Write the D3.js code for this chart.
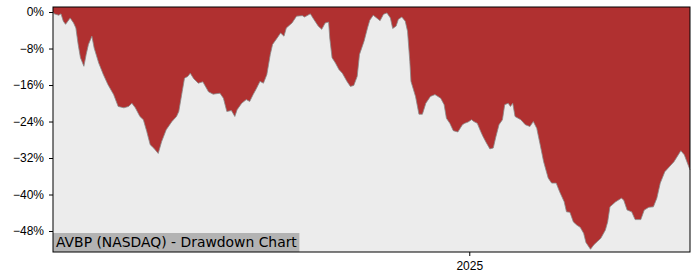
<!DOCTYPE html>
<html>
<head>
<meta charset="utf-8">
<script src="https://cdn.jsdelivr.net/npm/d3@7"></script>
<style>
  body { margin: 0; background: #fff; }
  svg { display: block; font-family: "DejaVu Sans", sans-serif; }
  .tick text { font-size: 12px; fill: #000; }
</style>
</head>
<body>
<svg width="700" height="280"></svg>
<script>
const dates = [
  '2024-01-03','2024-01-04','2024-01-08','2024-01-10','2024-01-12','2024-01-14','2024-01-16','2024-01-18',
  '2024-01-21','2024-01-23','2024-01-25','2024-01-27','2024-01-30','2024-02-01','2024-02-03','2024-02-06',
  '2024-02-08','2024-02-12','2024-02-16','2024-02-20','2024-02-25','2024-02-29','2024-03-05','2024-03-09',
  '2024-03-12','2024-03-15','2024-03-19','2024-03-22','2024-03-25','2024-03-28','2024-03-31','2024-04-04',
  '2024-04-07','2024-04-11','2024-04-16','2024-04-20','2024-04-22','2024-04-25','2024-04-27','2024-04-30',
  '2024-05-02','2024-05-05','2024-05-09','2024-05-13','2024-05-18','2024-05-22','2024-05-28','2024-05-31',
  '2024-06-03','2024-06-07','2024-06-10','2024-06-12','2024-06-16','2024-06-20','2024-06-23','2024-06-26',
  '2024-06-29','2024-07-02','2024-07-05','2024-07-08','2024-07-11','2024-07-13','2024-07-17','2024-07-20',
  '2024-07-23','2024-07-25','2024-07-30','2024-08-03','2024-08-08','2024-08-10','2024-08-15','2024-08-18',
  '2024-08-22','2024-08-25','2024-08-28','2024-08-31','2024-09-01','2024-09-03','2024-09-06','2024-09-09',
  '2024-09-12','2024-09-16','2024-09-19','2024-09-22','2024-09-25','2024-09-27','2024-10-01','2024-10-04',
  '2024-10-06','2024-10-09','2024-10-12','2024-10-15','2024-10-18','2024-10-21','2024-10-24','2024-10-26',
  '2024-10-29','2024-10-31','2024-11-03','2024-11-06','2024-11-08','2024-11-10','2024-11-11','2024-11-15',
  '2024-11-18','2024-11-21','2024-11-24','2024-11-28','2024-12-02','2024-12-07','2024-12-10','2024-12-12',
  '2024-12-15','2024-12-18','2024-12-22','2024-12-26','2024-12-28','2024-12-31','2025-01-03','2025-01-05',
  '2025-01-08','2025-01-11','2025-01-13','2025-01-16','2025-01-19','2025-01-22','2025-01-24','2025-01-27',
  '2025-01-30','2025-02-01','2025-02-04','2025-02-06','2025-02-08','2025-02-10','2025-02-15','2025-02-19',
  '2025-02-23','2025-02-26','2025-03-01','2025-03-04','2025-03-07','2025-03-11','2025-03-14','2025-03-18',
  '2025-03-21','2025-03-25','2025-03-27','2025-03-30','2025-04-02','2025-04-05','2025-04-08','2025-04-11',
  '2025-04-13','2025-04-17','2025-04-20','2025-04-23','2025-04-26','2025-04-30','2025-05-02','2025-05-04',
  '2025-05-09','2025-05-14','2025-05-16','2025-05-19','2025-05-23','2025-05-26','2025-05-31','2025-06-03',
  '2025-06-07','2025-06-11','2025-06-14','2025-06-17','2025-06-21','2025-06-25','2025-06-29','2025-07-05',
  '2025-07-08','2025-07-13'
];

const drawdown = [
  0, -0.4, -0.7, -0.4, -2, -2.7, -2, -1.3,
  -2.4, -3.5, -7.1, -10, -11.9, -9.3, -7.1, -5.3,
  -7.9, -11.2, -13.7, -15.9, -18.1, -20.7, -21, -20.7,
  -20, -21, -22.9, -23.6, -26.2, -29.1, -29.8, -31,
  -28.4, -25.8, -24, -22.9, -21.8, -17.4, -14.5, -14.1,
  -13.4, -14.6, -15.6, -15.3, -17.5, -18, -17.8, -18.9,
  -21.8, -21.6, -22.9, -21.4, -20, -19.2, -19.6, -18.1,
  -16.7, -15.2, -15.6, -13.7, -9.3, -7.1, -5.7, -4.6,
  -5.3, -3.5, -2.4, -0.9, -0.8, -1.1, -0.4, -1.6,
  -3.1, -3.8, -2.4, -2.2, -5.7, -10, -11.2, -12.6,
  -13.4, -15.2, -16.3, -16.1, -14.1, -9.3, -6.4, -3.5,
  -1.8, -0.7, -1.3, -1.9, -0.5, -0.2, -1.3, -3.6,
  -3.1, -1.6, -1.1, -2, -4.2, -10.8, -15.2, -18.5,
  -22.4, -22.4, -20, -18.5, -18.1, -18.9, -20.3, -23.3,
  -24.4, -26, -26.3, -24.7, -24.4, -24.1, -23.6, -24,
  -24.4, -26.2, -27.3, -28.7, -30, -29.8, -27.6, -24.7,
  -23.6, -20.3, -20, -20.7, -20, -22.9, -23.6, -24.7,
  -25.1, -24, -25.5, -29.1, -32.8, -36.4, -37.5, -37.5,
  -39.4, -41.6, -43.8, -43.9, -46, -46.7, -47.2, -48.5,
  -50.5, -52, -51, -50.3, -49.6, -47.8, -46, -42.7,
  -41.6, -40.8, -41.2, -43.4, -43.8, -45.5, -45.5, -43.4,
  -42.8, -42.7, -40.8, -37.5, -35, -33.9, -32.8, -30.4,
  -31.3, -34.6
];

const yTicks = [0, -8, -16, -24, -32, -40, -48];
const xTickYears = ['2025-01-01'];
const title = 'AVBP (NASDAQ) - Drawdown Chart';

const svg = d3.select('svg');
const margin = { top: 7, right: 10, bottom: 28, left: 53 };
const width = +svg.attr('width');
const height = +svg.attr('height');
const innerWidth = width - margin.left - margin.right;
const innerHeight = height - margin.top - margin.bottom;

const parse = d3.utcParse('%Y-%m-%d');
const data = dates.map((d, i) => ({ date: parse(d), value: drawdown[i] }));

const xScale = d3.scaleUtc()
  .domain([parse(dates[0]), parse(dates[dates.length - 1])])
  .range([0, innerWidth]);

const yScale = d3.scaleLinear()
  .domain([-52.6, 1.1])
  .range([innerHeight, 0]);

const g = svg.append('g')
  .attr('transform', `translate(${margin.left},${margin.top})`);

g.append('rect')
  .attr('width', innerWidth)
  .attr('height', innerHeight)
  .attr('fill', '#ececec');

// red area from the curve up to the top of the plot
const area = d3.area()
  .x(d => xScale(d.date))
  .y0(0)
  .y1(d => yScale(d.value));

g.append('path')
  .datum(data)
  .attr('d', area)
  .attr('fill', '#b03030');

g.append('path')
  .datum(data)
  .attr('d', d3.line().x(d => xScale(d.date)).y(d => yScale(d.value)))
  .attr('fill', 'none')
  .attr('stroke', '#8a8a8a')
  .attr('stroke-width', 0.8);

const yAxis = d3.axisLeft(yScale)
  .tickValues(yTicks)
  .tickSize(4)
  .tickPadding(5)
  .tickFormat(d => (d < 0 ? '\u2212' : '') + Math.abs(d) + '%');

const yAxisG = g.append('g').call(yAxis);
yAxisG.select('.domain').remove();

const xAxis = d3.axisBottom(xScale)
  .tickValues(xTickYears.map(parse))
  .tickSize(4)
  .tickPadding(5)
  .tickFormat(d3.utcFormat('%Y'));

const xAxisG = g.append('g')
  .attr('transform', `translate(0,${innerHeight})`)
  .call(xAxis);
xAxisG.select('.domain').remove();

// title box in the bottom-left corner
const label = g.append('g');
const labelText = label.append('text')
  .attr('x', 3)
  .attr('y', innerHeight - 5)
  .attr('font-size', 13.9)
  .attr('fill', '#000')
  .text(title);
const bb = labelText.node().getBBox();
label.insert('rect', 'text')
  .attr('x', 0)
  .attr('y', innerHeight - 19)
  .attr('width', bb.width + 5)
  .attr('height', 19)
  .attr('fill', '#b3b3b3');

g.append('rect')
  .attr('width', innerWidth)
  .attr('height', innerHeight)
  .attr('fill', 'none')
  .attr('stroke', '#000')
  .attr('stroke-width', 1);
</script>
</body>
</html>
